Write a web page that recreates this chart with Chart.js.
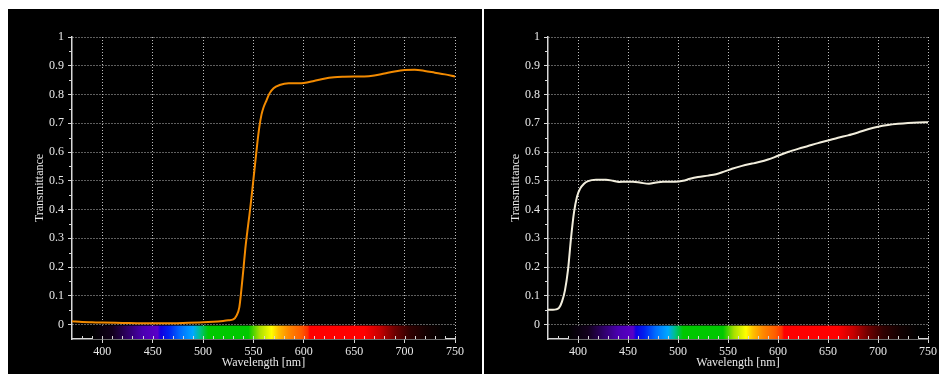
<!DOCTYPE html>
<html><head><meta charset="utf-8">
<script src="https://cdn.jsdelivr.net/npm/chart.js@4/dist/chart.umd.min.js"></script>
<style>
html,body{margin:0;padding:0;background:#fff;width:939px;height:374px;overflow:hidden;}
#l{position:absolute;left:8px;top:9px;width:474px;height:365px;background:#000;}
#r{position:absolute;left:484px;top:9px;width:455px;height:365px;background:#000;}
canvas{display:block;}
</style></head><body>
<div id="l"><canvas id="c1" width="474" height="365"></canvas></div>
<div id="r"><canvas id="c2" width="455" height="365"></canvas></div>
<script>
// Left panel: long-pass (orange) filter
const wlA = [370,380,390,400,420,440,460,480,500,510,520,525,530,533,536,538,540,542,544,546,548,550,552,554,556,558,560,563,566,570,576,585,595,600,610,620,630,640,650,660,670,680,690,700,710,720,730,740,750];
const tA  = [0.012,0.009,0.008,0.007,0.006,0.005,0.005,0.006,0.008,0.010,0.013,0.015,0.018,0.03,0.06,0.12,0.19,0.265,0.325,0.38,0.44,0.505,0.57,0.635,0.69,0.73,0.755,0.78,0.804,0.822,0.833,0.839,0.839,0.840,0.847,0.855,0.860,0.862,0.863,0.863,0.866,0.873,0.880,0.885,0.886,0.882,0.876,0.870,0.863];
// Right panel: clear/white filter
const wlB = [370,375,378,381,384,387,390,393,396,399,402,406,410,418,428,435,441,448,455,463,471,478,485,497,505,512,520,530,538,546,554,564,574,582,590,600,610,620,630,640,650,660,670,680,690,700,710,720,730,740,750];
const tB  = [0.052,0.052,0.053,0.058,0.08,0.12,0.19,0.30,0.39,0.445,0.472,0.49,0.499,0.504,0.504,0.500,0.496,0.497,0.497,0.493,0.490,0.494,0.497,0.497,0.500,0.507,0.513,0.518,0.523,0.532,0.542,0.552,0.560,0.566,0.574,0.587,0.600,0.611,0.621,0.631,0.640,0.650,0.658,0.668,0.679,0.688,0.694,0.698,0.701,0.703,0.704];

const xTicks = [400,450,500,550,600,650,700,750];
const yTicks = [0,0.1,0.2,0.3,0.4,0.5,0.6,0.7,0.8,0.9,1];
const xRange = [370,750];
const yRange = [-0.05,1];
const bandRange = [0,-0.05];

// visible spectrum strip under the curves
const spectrumNm    = [390,410,425,440,455,458,466,478,490,497,505,545,556,568,575,585,598,604,606,660,675,690,705,722,740];
const spectrumColor = ['#000000','#12001c','#2e0066','#4a00b0','#5a00c8','#1000e0','#0020f0','#0070ff','#00a8ff','#00c08a','#00c800','#00c800','#a8e000','#ffff00','#ffc000','#ff8800','#ff5a00','#ff3000','#ff0000','#ff0000','#c80000','#700000','#300000','#120000','#000000'];

const TXT = '#e8e8e8';
const FONT = {family:'"Liberation Serif", "Times New Roman", serif', size:12};

const spectrumPlugin = {
  id:'spectrum',
  beforeDatasetsDraw(chart){
    const {ctx, scales:{x, y}} = chart;
    const a = spectrumNm[0], b = spectrumNm[spectrumNm.length-1];
    const x0 = x.getPixelForValue(a), x1 = x.getPixelForValue(b);
    const y0 = y.getPixelForValue(bandRange[0]), y1 = y.getPixelForValue(bandRange[1]);
    const g = ctx.createLinearGradient(x0,0,x1,0);
    spectrumNm.forEach((nm,i)=> g.addColorStop((nm-a)/(b-a), spectrumColor[i]));
    ctx.save();
    ctx.fillStyle = g;
    ctx.fillRect(x0, y0+1, x1-x0, y1-y0-1);
    ctx.restore();
  },
  afterDraw(chart){
    const {ctx, scales:{x, y}} = chart;
    ctx.save();
    ctx.strokeStyle = '#d8d8d8';
    ctx.lineWidth = 1;
    const yb = Math.round(y.getPixelForValue(yRange[0]));
    ctx.beginPath();
    for (let v = xRange[0]+10; v <= xRange[1]; v += 10){
      const px = Math.round(x.getPixelForValue(v))+0.5;
      ctx.moveTo(px, yb); ctx.lineTo(px, yb-3);
    }
    const xl = Math.round(x.getPixelForValue(xRange[0]));
    for (let v = 0.05; v < 1; v += 0.1){
      const py = Math.round(y.getPixelForValue(v))+0.5;
      ctx.moveTo(xl, py); ctx.lineTo(xl-3, py);
    }
    ctx.stroke();
    ctx.restore();
  }
};

function makeChart(id, wl, t, color, rightPad){
  return new Chart(document.getElementById(id), {
    type:'line',
    data:{datasets:[{
      data: wl.map((w,i)=>({x:w, y:t[i]})),
      borderColor: color, borderWidth: 2, pointRadius: 0,
      cubicInterpolationMode:'monotone', fill:false
    }]},
    options:{
      responsive:false, animation:false, devicePixelRatio:1,
      layout:{padding:{left:0, right:rightPad, top:28, bottom:0}},
      plugins:{legend:{display:false}, tooltip:{enabled:false}},
      scales:{
        x:{
          type:'linear', min:xRange[0], max:xRange[1],
          afterBuildTicks: s => { s.ticks = xTicks.map(v=>({value:v})); },
          afterFit: s => { s.height = 35; },
          grid:{color:'#bdbdbd', lineWidth:1, drawTicks:true, tickLength:4, tickColor:'#d8d8d8', tickBorderDash:[]},
          border:{display:true, color:'#d8d8d8', width:1.5, dash:[1,2]},
          ticks:{color:TXT, font:FONT, padding:2, maxRotation:0, autoSkip:false, callback:v=>String(v)},
          title:{display:true, text:'Wavelength [nm]', color:TXT, font:FONT, padding:{top:0, bottom:4}}
        },
        y:{
          type:'linear', min:yRange[0], max:yRange[1],
          afterBuildTicks: s => { s.ticks = yTicks.map(v=>({value:v})); },
          afterFit: s => { s.width = 64; },
          grid:{color:'#bdbdbd', lineWidth:1, drawTicks:true, tickLength:4, tickColor:'#d8d8d8', tickBorderDash:[]},
          border:{display:true, color:'#d8d8d8', width:1.5, dash:[1,2]},
          ticks:{color:TXT, font:FONT, padding:4, autoSkip:false, callback:v=>String(Math.round(v*10)/10)},
          title:{display:true, text:'Transmittance', color:TXT, font:FONT, padding:{top:25, bottom:0}}
        }
      }
    },
    plugins:[spectrumPlugin]
  });
}
makeChart('c1', wlA, tA, '#f28a00', 27);
makeChart('c2', wlB, tB, '#f2eedd', 9);
</script>
</body></html>
